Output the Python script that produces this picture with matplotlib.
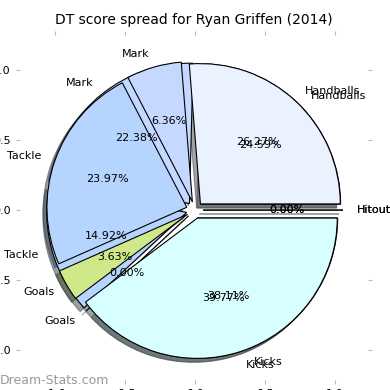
import matplotlib
matplotlib.use('Agg')
import matplotlib.pyplot as plt

# Данные: доли очков DT по статистикам (два набора, накладываются)
labels = ['Handballs', 'Mark', 'Tackle', 'Goals', 'Kicks', 'Hitout']
spread_top = [26.27, 6.36, 23.97, 3.63, 39.77, 0.0]
spread_under = [24.59, 22.38, 14.92, 0.0, 38.11, 0.0]
slice_colors = ['#eaf2ff', '#c5d8ff', '#b5d5ff', '#cfe88a', '#d8ffff', '#eeeeee']

fig = plt.figure(figsize=(3.9, 3.9), dpi=100)
ax = fig.add_axes([0.051, 0.026, 0.893, 0.885])

explode = [0.06] * len(labels)
wedge_style = {'edgecolor': 'black', 'linewidth': 0.8}

# нижний набор рисуем первым, верхний перекрывает его
for values in (spread_under, spread_top):
    ax.pie(values, labels=labels, colors=slice_colors, explode=explode,
           autopct='%1.2f%%', shadow=True, startangle=0, frame=True,
           wedgeprops=wedge_style, textprops={'fontsize': 8})

ax.set_xlim(-1.25, 1.24)
ax.set_ylim(-1.21, 1.25)
ax.set_aspect('equal', adjustable='datalim')
ax.set_position([0.051, 0.026, 0.893, 0.885])

ticks = [-1.0, -0.5, 0.0, 0.5, 1.0]
ax.set_xticks(ticks)
ax.set_yticks(ticks)
ax.set_xticklabels(['%.1f' % t for t in ticks])
ax.set_yticklabels(['%.1f' % t for t in ticks])
ax.tick_params(axis='both', colors='#bbbbbb', labelcolor='black', labelsize=8,
               direction='out', length=3, top=True, right=True)
for side in ax.spines.values():
    side.set_visible(False)

ax.set_title('DT score spread for Ryan Griffen (2014)', fontsize=10, pad=8)

fig.text(0.0, 0.025, 'Dream-Stats.com', fontsize=9, color='#999999',
         ha='left', va='center')

fig.savefig('out.png', dpi=100)
